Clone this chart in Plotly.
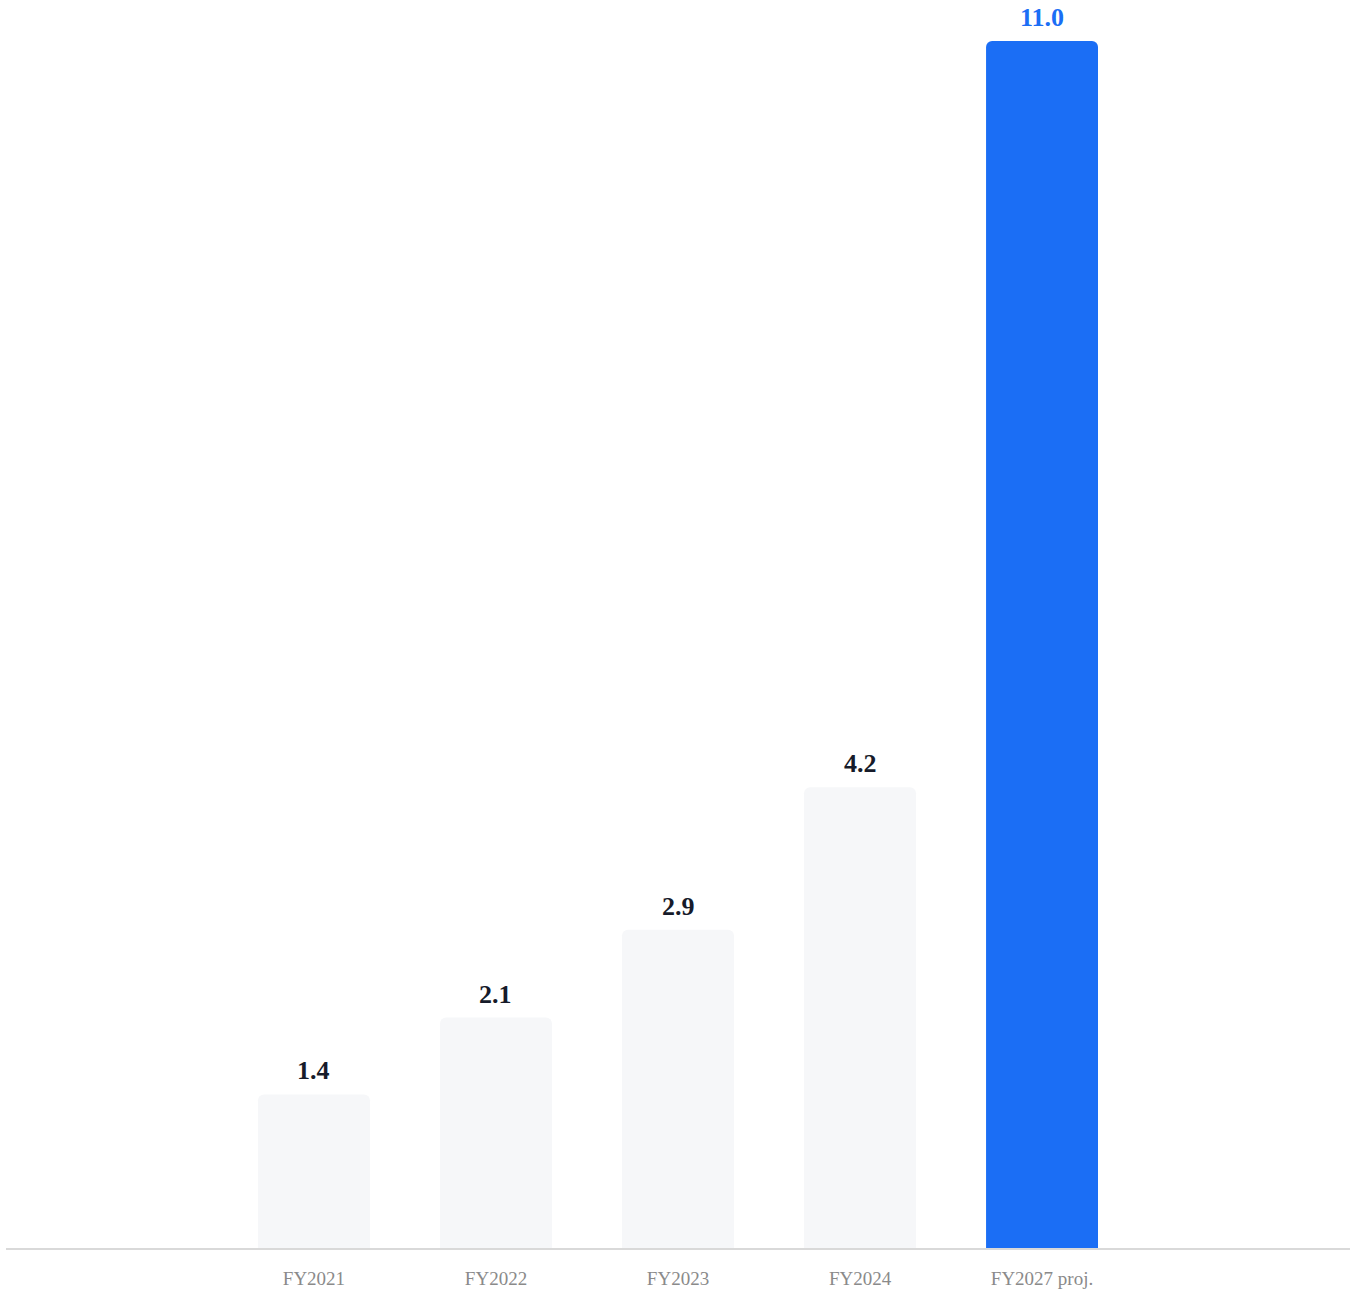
import plotly.graph_objects as go

categories = ["FY2021", "FY2022", "FY2023", "FY2024", "FY2027 proj."]
values = [1.4, 2.1, 2.9, 4.2, 11.0]
labels = ["1.4", "2.1", "2.9", "4.2", "11.0"]

GRAY = "#F6F7F9"
BLUE = "#1B6EF5"
DARK = "#161B2A"

bar_colors = [GRAY, GRAY, GRAY, GRAY, BLUE]
label_colors = [DARK, DARK, DARK, DARK, BLUE]

fig = go.Figure()
fig.add_trace(go.Bar(
    x=categories, y=values,
    marker=dict(color=bar_colors, line=dict(width=0)),
    width=0.615,
    hoverinfo="skip",
))

for c, v, t, col in zip(categories, values, labels, label_colors):
    fig.add_annotation(
        x=c, y=v, text=f"<b>{t}</b>", showarrow=False,
        yanchor="bottom", yshift=8, borderpad=0,
        font=dict(family="Liberation Serif", size=26, color=col),
    )

fig.update_layout(
    width=1354, height=1294,
    margin=dict(l=6, r=4, t=0, b=46),
    paper_bgcolor="white", plot_bgcolor="white",
    barcornerradius=6,
    showlegend=False,
    xaxis=dict(
        range=[-1.692, 5.692],
        showgrid=False, zeroline=False,
        showline=True, linecolor="#D9D9D9", linewidth=2,
        ticks="", ticklabelstandoff=12,
        tickfont=dict(family="Liberation Serif", size=19, color="#8A8A8A"),
        fixedrange=True,
    ),
    yaxis=dict(
        range=[0, 11.374], visible=False, showgrid=False, zeroline=False,
        fixedrange=True,
    ),
)

fig.write_html(
    "out.html",
    config={"displayModeBar": False, "staticPlot": True},
    post_script="document.body.style.margin='0';document.body.style.overflow='hidden';",
)
